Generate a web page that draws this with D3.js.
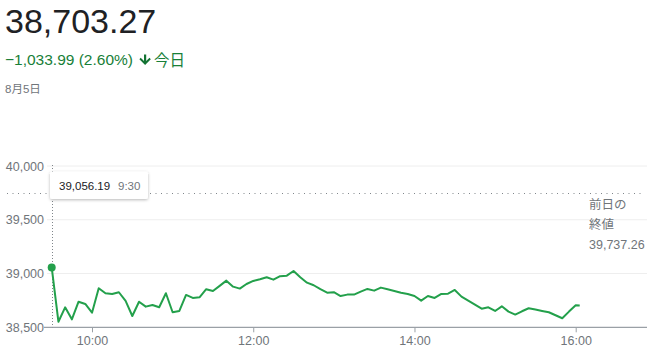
<!DOCTYPE html>
<html>
<head>
<meta charset="utf-8">
<script src="https://cdn.jsdelivr.net/npm/d3@7"></script>
<style>
  body { margin: 0; background: #fff; }
  text { font-family: Arial, "Liberation Sans", "Noto Sans CJK JP", sans-serif; }
</style>
</head>
<body>
<script>
// Dow close on 8/5 intraday (5 min points)
const times = [
  "9:30", "9:35", "9:40", "9:45", "9:50", "9:55",
  "10:00", "10:05", "10:10", "10:15", "10:20", "10:25", "10:30", "10:35", "10:40", "10:45", "10:50", "10:55",
  "11:00", "11:05", "11:10", "11:15", "11:20", "11:25", "11:30", "11:35", "11:40", "11:45", "11:50", "11:55",
  "12:00", "12:05", "12:10", "12:15", "12:20", "12:25", "12:30", "12:35", "12:40", "12:45", "12:50", "12:55",
  "13:00", "13:05", "13:10", "13:15", "13:20", "13:25", "13:30", "13:35", "13:40", "13:45", "13:50", "13:55",
  "14:00", "14:05", "14:10", "14:15", "14:20", "14:25", "14:30", "14:35", "14:40", "14:45", "14:50", "14:55",
  "15:00", "15:05", "15:10", "15:15", "15:20", "15:25", "15:30", "15:35", "15:40", "15:45", "15:50", "15:55",
  "16:00", "16:03"
];
const values = [
  39056.19, 38552, 38686, 38574, 38738, 38717, 38636, 38863, 38817, 38810,
  38826, 38745, 38605, 38738, 38692, 38708, 38686, 38817, 38640, 38652,
  38801, 38773, 38779, 38854, 38838, 38885, 38934, 38878, 38860, 38903,
  38931, 38947, 38966, 38943, 38975, 38980, 39024, 38966, 38915, 38891,
  38854, 38822, 38826, 38791, 38804, 38804, 38832, 38857, 38841, 38869,
  38854, 38838, 38822, 38810, 38791, 38748, 38791, 38773, 38810, 38813,
  38847, 38785, 38748, 38710, 38673, 38686, 38652, 38695, 38646, 38618,
  38649, 38677, 38665, 38652, 38640, 38612, 38584, 38646, 38705, 38703.27
];
const yTicks = [38500, 39000, 39500, 40000];
const xTicks = ["10:00", "12:00", "14:00", "16:00"];
const prevClose = 39737.26;
const lastPrice = "38,703.27";
const change = "\u22121,033.99 (2.60%)";
const dateLabel = "8月5日";

const width = 650;
const height = 351;
const parse = d3.timeParse("%H:%M");
const data = times.map((t, i) => ({ t: parse(t), v: values[i] }));

const x = d3.scaleTime()
  .domain([parse("9:30"), parse("16:00")])
  .range([51.7, 575.7]);
const y = d3.scaleLinear()
  .domain([38500, 40000])
  .range([327.3, 166]);
const plotLeft = 47;
const plotRight = 647;

const grey = "#70757a";
const green = "#23a04b";

const svg = d3.select("body").append("svg")
  .attr("width", width)
  .attr("height", height);

const defs = svg.append("defs");
const shadow = defs.append("filter")
  .attr("id", "shadow")
  .attr("x", "-20%").attr("y", "-40%")
  .attr("width", "140%").attr("height", "180%");
shadow.append("feDropShadow")
  .attr("dx", 0).attr("dy", 1)
  .attr("stdDeviation", 1.5)
  .attr("flood-color", "#000")
  .attr("flood-opacity", 0.28);

// Header
svg.append("text")
  .attr("x", 5).attr("y", 32.5)
  .style("font-size", "34px")
  .style("fill", "#202124")
  .text(lastPrice);

svg.append("text")
  .attr("x", 5).attr("y", 65)
  .style("font-size", "15.5px")
  .style("fill", "#188038")
  .text(change);

// down arrow
svg.append("path")
  .attr("d", "M144,54.5 L146.2,54.5 L146.2,61 L149.5,57.8 L150.8,59.2 L145.1,65 L139.4,59.2 L140.7,57.8 L144,61 Z")
  .style("fill", "#137333");

svg.append("text")
  .attr("x", 154).attr("y", 65.5)
  .style("font-size", "15.5px")
  .style("fill", "#188038")
  .style("font-family", "'Noto Sans CJK JP', sans-serif")
  .text("今日");

svg.append("text")
  .attr("x", 5).attr("y", 93)
  .style("font-size", "11.5px")
  .style("fill", grey)
  .style("font-family", "Arial, 'Noto Sans CJK JP', sans-serif")
  .text(dateLabel);

// Gridlines
svg.append("g")
  .selectAll("line")
  .data(yTicks.filter((d) => d !== 38500))
  .join("line")
  .attr("x1", plotLeft).attr("x2", plotRight)
  .attr("y1", (d) => y(d)).attr("y2", (d) => y(d))
  .style("stroke", "#eeeeee")
  .style("stroke-width", 1);

// Y labels
svg.append("g")
  .selectAll("text")
  .data(yTicks)
  .join("text")
  .attr("x", 44)
  .attr("y", (d) => y(d) + 4.5)
  .attr("text-anchor", "end")
  .style("font-size", "12.5px")
  .style("fill", grey)
  .text((d) => d3.format(",")(d));

// X axis
const xAxis = svg.append("g")
  .attr("transform", `translate(0,${y(38500)})`)
  .call(
    d3.axisBottom(x)
      .tickValues(xTicks.map(parse))
      .tickFormat(d3.timeFormat("%H:%M"))
      .tickSize(5)
      .tickSizeOuter(0)
  );
xAxis.select(".domain").remove();
xAxis.selectAll(".tick line").style("stroke", "#9aa0a6");
xAxis.selectAll(".tick text")
  .attr("y", 9)
  .style("font-size", "12.5px")
  .style("font-family", "Arial, 'Liberation Sans', sans-serif")
  .style("fill", grey);
xAxis.append("line")
  .attr("x1", 44).attr("x2", plotRight)
  .attr("y1", 0).attr("y2", 0)
  .style("stroke", "#9aa0a6")
  .style("stroke-width", 1.3);

// Previous close dotted line
svg.append("line")
  .attr("x1", 7).attr("x2", 645)
  .attr("y1", Math.round(y(prevClose)) - 0.5)
  .attr("y2", Math.round(y(prevClose)) - 0.5)
  .style("stroke", "#80868b")
  .style("stroke-width", 1)
  .style("stroke-dasharray", "1,4.5");

const pcLabel = svg.append("text")
  .attr("x", 589)
  .style("font-size", "12.5px")
  .style("fill", grey)
  .style("font-family", "Arial, 'Noto Sans CJK JP', sans-serif");
pcLabel.append("tspan").attr("x", 589).attr("y", 209).text("前日の");
pcLabel.append("tspan").attr("x", 589).attr("y", 229).text("終値");
pcLabel.append("tspan").attr("x", 589).attr("y", 249).text(d3.format(",.2f")(prevClose));

// Vertical dotted hover line
svg.append("line")
  .attr("x1", Math.round(x(data[0].t)) + 0.5)
  .attr("x2", Math.round(x(data[0].t)) + 0.5)
  .attr("y1", 165).attr("y2", y(38500))
  .style("stroke", "#80868b")
  .style("stroke-width", 1)
  .style("stroke-dasharray", "1,2");

// Price line
const line = d3.line()
  .x((d) => x(d.t))
  .y((d) => y(d.v));

svg.append("path")
  .datum(data)
  .attr("d", line)
  .style("fill", "none")
  .style("stroke", green)
  .style("stroke-width", 2)
  .style("stroke-linejoin", "round");

svg.append("circle")
  .attr("cx", x(data[0].t))
  .attr("cy", y(data[0].v))
  .attr("r", 4)
  .style("fill", green);

// Tooltip
const tip = svg.append("g").attr("transform", "translate(50,171.5)");
tip.append("rect")
  .attr("width", 98).attr("height", 27.5)
  .attr("rx", 2)
  .style("fill", "#fff")
  .attr("filter", "url(#shadow)");
tip.append("text")
  .attr("x", 9).attr("y", 18)
  .style("font-size", "11.5px")
  .style("fill", "#202124")
  .text(d3.format(",.2f")(data[0].v));
tip.append("text")
  .attr("x", 68).attr("y", 18)
  .style("font-size", "11.5px")
  .style("fill", grey)
  .text(times[0]);
</script>
</body>
</html>
